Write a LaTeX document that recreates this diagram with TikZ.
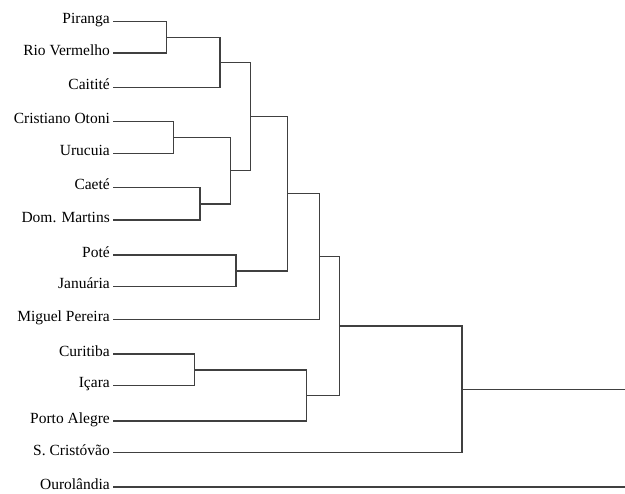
\documentclass[tikz,border=0pt]{standalone}
\usepackage{fontspec}
\setmainfont{Liberation Serif}
\tikzset{
  leaf/.style={anchor=mid east, inner sep=3pt, font=\fontsize{15.5}{18}\selectfont},
  branch/.style={draw=black!75, line width=1.4pt}
}
\begin{document}
\begin{tikzpicture}[x=1pt,y=-1pt]
        \useasboundingbox (0,0) rectangle (625,494);
        % leaves
        \node[leaf] (piranga) at (113,21.7) {Piranga};
        \node[leaf] (rio) at (113,52.9) {Rio Vermelho};
        \node[leaf] (caitite) at (113,87.3) {Caitité};
        \node[leaf] (cristiano) at (113,121.7) {Cristiano Otoni};
        \node[leaf] (urucuia) at (113,153.3) {Urucuia};
        \node[leaf] (caete) at (113,187.7) {Caeté};
        \node[leaf] (dom) at (113,220) {Dom. Martins};
        \node[leaf] (pote) at (113,255) {Poté};
        \node[leaf] (januaria) at (113,286.7) {Januária};
        \node[leaf] (miguel) at (113,319.3) {Miguel Pereira};
        \node[leaf] (curitiba) at (113,354) {Curitiba};
        \node[leaf] (icara) at (113,385.7) {Içara};
        \node[leaf] (porto) at (113,421) {Porto Alegre};
        \node[leaf] (cristovao) at (113,452.8) {S. Cristóvão};
        \node[leaf] (ourolandia) at (113,487.2) {Ourolândia};
        % joins
        \coordinate (a) at (166.7,37.3);
        \coordinate (b) at (220,62.3);
        \coordinate (c) at (173.3,137.5);
        \coordinate (d) at (200,203.9);
        \coordinate (e) at (230.7,170.7);
        \coordinate (f) at (250.7,116.5);
        \coordinate (g) at (236,270.9);
        \coordinate (h) at (287.3,193.7);
        \coordinate (i) at (319.3,256.5);
        \coordinate (j) at (194.3,369.9);
        \coordinate (k) at (306.7,395.4);
        \coordinate (l) at (339.3,325.9);
        \coordinate (m) at (462,389.4);
        \coordinate (root) at (625,389.4);
        \coordinate (ouroend) at (625,487.2);
        % branches
        \draw[branch] (piranga.mid east) -| (a) (rio.mid east) -| (a);
        \draw[branch] (a) -| (b) (caitite.mid east) -| (b);
        \draw[branch] (cristiano.mid east) -| (c) (urucuia.mid east) -| (c);
        \draw[branch] (caete.mid east) -| (d) (dom.mid east) -| (d);
        \draw[branch] (c) -| (e) (d) -| (e);
        \draw[branch] (b) -| (f) (e) -| (f);
        \draw[branch] (pote.mid east) -| (g) (januaria.mid east) -| (g);
        \draw[branch] (f) -| (h) (g) -| (h);
        \draw[branch] (h) -| (i) (miguel.mid east) -| (i);
        \draw[branch] (curitiba.mid east) -| (j) (icara.mid east) -| (j);
        \draw[branch] (j) -| (k) (porto.mid east) -| (k);
        \draw[branch] (i) -| (l) (k) -| (l);
        \draw[branch] (l) -| (m) (cristovao.mid east) -| (m);
        \draw[branch] (m) -- (root);
        \draw[branch] (ourolandia.mid east) -- (ouroend);
    \end{tikzpicture}
\end{document}
